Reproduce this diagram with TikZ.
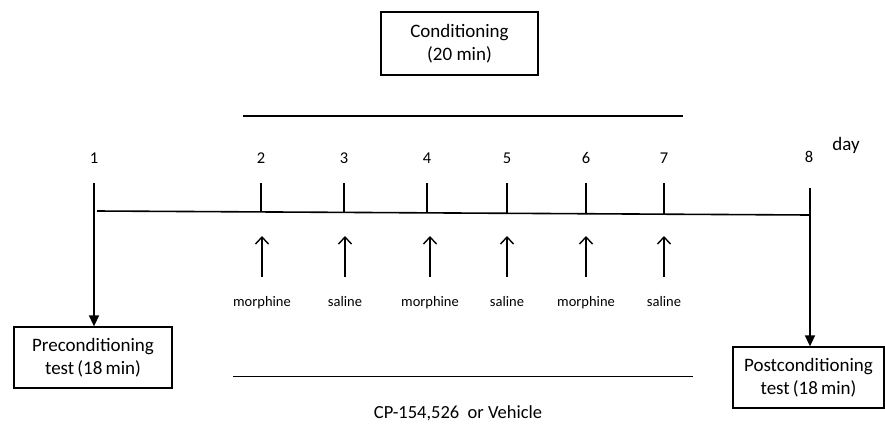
\documentclass[tikz,border=0pt]{standalone}
\usepackage{fontspec}
\setmainfont{Carlito}
\usetikzlibrary{arrows.meta}
\begin{document}
\begin{tikzpicture}[x=1pt,y=-1pt,
  ln/.style={line width=1.6pt,line cap=butt},
  tickline/.style={line width=1.6pt},
  boxnode/.style={draw,line width=1.3pt,align=center,font=\fontsize{19}{23}\selectfont,inner sep=0pt},
  daylbl/.style={font=\fontsize{16.5}{19}\selectfont,inner sep=0pt},
  druglbl/.style={font=\fontsize{14.5}{17}\selectfont,inner sep=0pt,anchor=base},
  downarr/.style={ln,-{Triangle[length=11pt,width=10pt]}},
  uparr/.style={ln,-{Straight Barb[length=7pt,width=13pt,line width=1.4pt]}}]
\useasboundingbox (0,0) rectangle (885,426);
% boxes
\node[boxnode,minimum width=157pt,minimum height=63pt] (cond) at (459.5,43.5) {Conditioning\\(20 min)};
\node[boxnode,minimum width=158pt,minimum height=61pt] (pre) at (93,357.5) {Preconditioning\\test\,(18\,min)};
\node[boxnode,minimum width=151pt,minimum height=61pt] (post) at (808.5,377.5) {Postconditioning\\test\,(18\,min)};
% conditioning bar and drug bar
\coordinate (cbL) at (243,116);
\coordinate (cbR) at (683,116);
\draw[ln] (cbL) -- (cbR);
\coordinate (dbL) at (233,376.5);
\coordinate (dbR) at (693,376.5);
\draw[ln] (dbL) -- (dbR);
\node[font=\fontsize{18.5}{22}\selectfont,inner sep=0pt] (cp) at (458,413) {CP-154,526\ \ or Vehicle};
% main time line
\coordinate (L1) at (97,211);
\coordinate (L8) at (810,215);
\draw[ln] (L1) -- (L8);
% day labels
\node[daylbl] (d1) at (94,158) {1};
\node[daylbl] (d2) at (261,158) {2};
\node[daylbl] (d3) at (344,158) {3};
\node[daylbl] (d4) at (427,158) {4};
\node[daylbl] (d5) at (507,158) {5};
\node[daylbl] (d6) at (586,158) {6};
\node[daylbl] (d7) at (664,158) {7};
\node[daylbl] (d8) at (809,157) {8};
\node[daylbl,font=\fontsize{19}{22}\selectfont] (day) at (846,145) {day};
% ticks
\foreach \n/\x/\yb in {2/261/211.9,3/344/212.4,4/427/212.9,5/507/213.3,6/586/213.7,7/664/214.2}{
  \coordinate (tt\n) at (\x,183);
  \coordinate (tb\n) at (\x,\yb);
  \draw[tickline] (tt\n) -- (tb\n);
}
% down arrows to tests
\coordinate (v1) at (94,183);
\draw[downarr] (v1) -- (pre.north -| v1);
\coordinate (v8) at (810,188);
\draw[downarr] (v8) -- (post.north -| v8);
% injection arrows and labels
\foreach \n/\x/\lab in {2/262/morphine,3/345/saline,4/430/morphine,5/507/saline,6/586/morphine,7/664/saline}{
  \coordinate (ab\n) at (\x,277);
  \coordinate (at\n) at (\x,236);
  \draw[uparr] (ab\n) -- (at\n);
  \node[druglbl] (lab\n) at (\x,306) {\lab};
}
\end{tikzpicture}
\end{document}
